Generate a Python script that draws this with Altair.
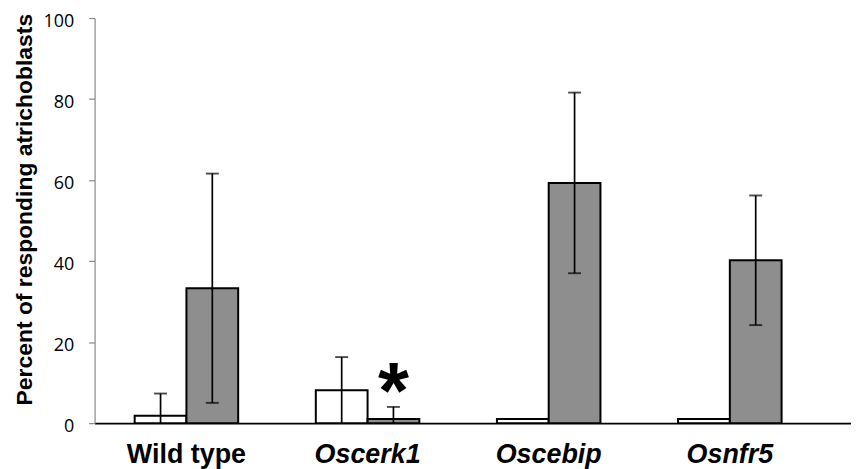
import altair as alt
import pandas as pd

groups = ["Wild type", "Oscerk1", "Oscebip", "Osnfr5"]
conditions = ["Untreated", "Treated"]
white_means = [1.8, 8.1, 1.0, 1.0]
white_err = [5.5, 8.2, 0.0, 0.0]
gray_means = [33.3, 1.0, 59.3, 40.2]
gray_err = [28.3, 3.0, 22.3, 16.0]
star_group = "Oscerk1"
star_condition = "Treated"

rows = []
for g, m, e in zip(groups, white_means, white_err):
    rows.append({"group": g, "cond": conditions[0], "mean": m, "err": e})
for g, m, e in zip(groups, gray_means, gray_err):
    rows.append({"group": g, "cond": conditions[1], "mean": m, "err": e})
df = pd.DataFrame(rows)
df["hi"] = df["mean"] + df["err"]
df["lo"] = (df["mean"] - df["err"]).clip(lower=0)

err_df = df[df["err"] > 0]
lo_caps = err_df[err_df["lo"] > 0]
star_df = pd.DataFrame([{"group": star_group, "cond": star_condition, "y": 0, "t": "*"}])

xenc = alt.X("group:N", sort=groups,
             scale=alt.Scale(paddingInner=0, paddingOuter=0.088, align=0.04),
             axis=alt.Axis(title=None, labelAngle=0, ticks=False, labelPadding=19,
                           labelFont="Liberation Sans", labelFontSize=27, labelFontWeight="bold",
                           labelColor="black",
                           labelFontStyle={"expr": "datum.value == 'Wild type' ? 'normal' : 'italic'"},
                           domainColor="black", domainWidth=2))
xoff = alt.XOffset("cond:N", sort=conditions,
                   scale=alt.Scale(paddingInner=0, paddingOuter=0.75))

yscale = alt.Scale(domain=[0, 100], nice=False)
yaxis = alt.Axis(title="Percent of responding atrichoblasts", values=[0, 20, 40, 60, 80, 100],
                 grid=False, domainColor="#8a8a8a", domainWidth=1.2, tickColor="#8a8a8a",
                 tickSize=6, tickWidth=1.2, labelPadding=15, labelOffset=3,
                 labelFont="Open Sans", labelFontSize=18, labelColor="black",
                 titleFont="Liberation Sans", titleFontSize=23, titleFontWeight="bold",
                 titleColor="black", titleAngle=-90, titleX=-70, titleY=192,
                 titleAlign="center", titleBaseline="middle")

bars = alt.Chart(df).mark_bar(stroke="black", strokeWidth=2).encode(
    x=xenc, xOffset=xoff,
    y=alt.Y("mean:Q", scale=yscale, axis=yaxis),
    color=alt.Color("cond:N", sort=conditions,
                    scale=alt.Scale(domain=conditions, range=["white", "#8e8e8e"]),
                    legend=None),
)

rules = alt.Chart(err_df).mark_rule(color="black", strokeWidth=1.7).encode(
    x=alt.X("group:N", sort=groups), xOffset=xoff,
    y="lo:Q", y2="hi:Q",
)
hi_caps = alt.Chart(err_df).mark_tick(color="black", thickness=1.9, size=13, orient="horizontal").encode(
    x=alt.X("group:N", sort=groups), xOffset=xoff, y="hi:Q",
)
lo_cap_marks = alt.Chart(lo_caps).mark_tick(color="black", thickness=1.9, size=13, orient="horizontal").encode(
    x=alt.X("group:N", sort=groups), xOffset=xoff, y="lo:Q",
)
star = alt.Chart(star_df).mark_text(font="Liberation Sans", fontSize=80, fontWeight="bold",
                                    baseline="alphabetic", align="center", color="black",
                                    dy=-5).encode(
    x=alt.X("group:N", sort=groups), xOffset=xoff, y="y:Q", text="t:N",
)

chart = alt.layer(bars, rules, hi_caps, lo_cap_marks, star).properties(
    width=760, height=407,
    autosize=alt.AutoSizeParams(type="none"),
    padding={"left": 87, "top": 9, "right": 0, "bottom": 45},
).configure_view(stroke=None)

chart.save("out.html", embed_options={"renderer": "svg", "actions": False})
